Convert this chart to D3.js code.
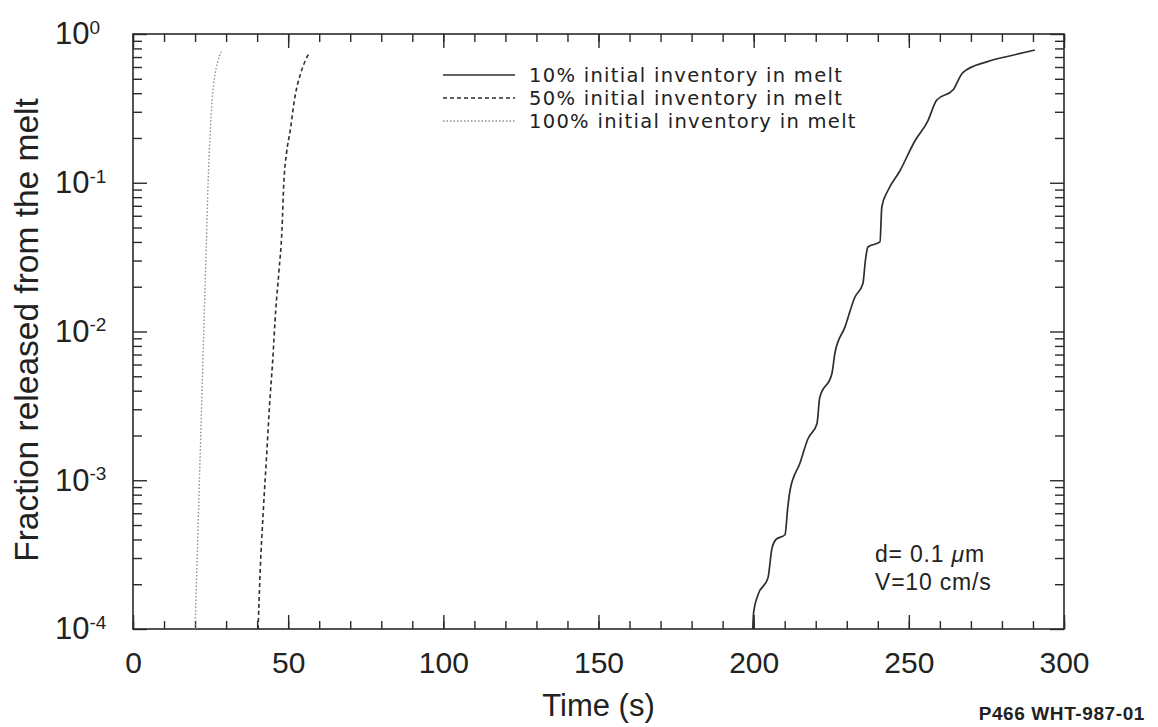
<!DOCTYPE html>
<html>
<head>
<meta charset="utf-8">
<script src="https://cdn.jsdelivr.net/npm/d3@7"></script>
<style>
  body { margin: 0; background: #fff; }
  svg { display: block; }
</style>
</head>
<body>
<div id="chart"></div>
<script>
// ---- data ----
const seriesNames = ["10% initial inventory in melt", "50% initial inventory in melt", "100% initial inventory in melt"];

// 10% initial inventory in melt (solid)
const time10 = [199.7, 200.0, 201.4, 204.6, 205.9, 207.2, 210.1, 211.0, 211.7, 214.9, 217.5, 220.4, 221.3, 225.2, 226.2,
  229.4, 232.6, 235.2, 236.0, 236.8, 240.7, 241.3, 243.3, 247.1, 251.9, 256.1, 259.0, 264.2, 267.4, 275.1, 283.5, 290.6];
const frac10 = [1.0e-4, 1.3e-4, 1.7e-4, 2.2e-4, 3.5e-4, 4.0e-4, 4.3e-4, 6.6e-4, 8.5e-4, 1.3e-3, 1.9e-3, 2.4e-3, 3.6e-3, 5.2e-3, 7.2e-3,
  1.07e-2, 1.7e-2, 2.1e-2, 3.0e-2, 3.7e-2, 4.0e-2, 6.9e-2, 8.9e-2, 0.12, 0.19, 0.26, 0.36, 0.42, 0.55, 0.65, 0.72, 0.78];

// 50% initial inventory in melt (dashed)
const time50 = [40.3, 41.0, 42.0, 43.0, 44.0, 45.0, 46.0, 47.0, 48.0, 48.6, 49.5, 50.6, 52.2, 54.1, 55.5, 56.7];
const frac50 = [1.0e-4, 2.5e-4, 6.3e-4, 1.4e-3, 3.2e-3, 6.3e-3, 1.4e-2, 2.5e-2, 4.8e-2, 0.10, 0.16, 0.22, 0.38, 0.55, 0.66, 0.74];

// 100% initial inventory in melt (dotted)
const time100 = [20.0, 20.6, 21.2, 21.8, 22.4, 23.0, 23.6, 24.2, 24.8, 25.5, 26.4, 27.3, 28.4];
const frac100 = [1.0e-4, 2.7e-4, 7.2e-4, 1.9e-3, 5.2e-3, 1.4e-2, 3.7e-2, 0.10, 0.20, 0.36, 0.53, 0.65, 0.76];

const xMajorTicks = [0, 50, 100, 150, 200, 250, 300];
const xMinorTicks = d3.range(0, 301, 10);
const yMajorTicks = [1e-4, 1e-3, 1e-2, 1e-1, 1];
const yExponents = ["-4", "-3", "-2", "-1", "0"];

const width = 1158, height = 727;
const plot = { left: 133, right: 1064, top: 34, bottom: 629 };

const svg = d3.select("#chart").append("svg")
  .attr("width", width)
  .attr("height", height)
  .style("font-family", "'Liberation Sans', Arial, Helvetica, sans-serif");

svg.append("rect").attr("width", width).attr("height", height).attr("fill", "#fff");

const x = d3.scaleLinear().domain([0, 300]).range([plot.left, plot.right]);
const y = d3.scaleLog().domain([1e-4, 1]).range([plot.bottom, plot.top]);

// minor y ticks 2..9 in each decade
const yMinorTicks = [];
yMajorTicks.slice(0, -1).forEach(d => {
  for (let k = 2; k <= 9; k++) yMinorTicks.push(d * k);
});

const axisColor = "#2a2a2a";

function styleAxis(g) {
  g.select(".domain").remove();
  g.selectAll(".tick line").attr("stroke", axisColor).attr("stroke-width", 1.4);
}

// bottom
svg.append("g").attr("transform", `translate(0,${plot.bottom})`)
  .call(d3.axisBottom(x).tickValues(xMinorTicks).tickSize(-8).tickFormat(""))
  .call(styleAxis);
svg.append("g").attr("transform", `translate(0,${plot.bottom})`)
  .call(d3.axisBottom(x).tickValues(xMajorTicks).tickSize(-14).tickPadding(23).tickFormat(d3.format("d")))
  .call(styleAxis)
  .call(g => g.selectAll("text").attr("fill", "#222").style("font-size", "30px"));

// top
svg.append("g").attr("transform", `translate(0,${plot.top})`)
  .call(d3.axisTop(x).tickValues(xMinorTicks).tickSize(-8).tickFormat(""))
  .call(styleAxis);
svg.append("g").attr("transform", `translate(0,${plot.top})`)
  .call(d3.axisTop(x).tickValues(xMajorTicks).tickSize(-14).tickFormat(""))
  .call(styleAxis);

// left
svg.append("g").attr("transform", `translate(${plot.left},0)`)
  .call(d3.axisLeft(y).tickValues(yMinorTicks).tickSize(-9).tickFormat(""))
  .call(styleAxis);
const yLeft = svg.append("g").attr("transform", `translate(${plot.left},0)`)
  .call(d3.axisLeft(y).tickValues(yMajorTicks).tickSize(-14).tickFormat(() => "10"))
  .call(styleAxis);
yLeft.selectAll("text")
  .attr("x", 55 - plot.left)
  .attr("text-anchor", "start")
  .attr("fill", "#222")
  .style("font-size", "31px")
  .each(function(d, i) {
    d3.select(this).append("tspan")
      .attr("dy", "-0.55em")
      .style("font-size", "19px")
      .text(yExponents[i]);
  });

// right
svg.append("g").attr("transform", `translate(${plot.right},0)`)
  .call(d3.axisRight(y).tickValues(yMinorTicks).tickSize(-9).tickFormat(""))
  .call(styleAxis);
svg.append("g").attr("transform", `translate(${plot.right},0)`)
  .call(d3.axisRight(y).tickValues(yMajorTicks).tickSize(-14).tickFormat(""))
  .call(styleAxis);

// frame
svg.append("rect")
  .attr("x", plot.left).attr("y", plot.top)
  .attr("width", plot.right - plot.left).attr("height", plot.bottom - plot.top)
  .attr("fill", "none").attr("stroke", axisColor).attr("stroke-width", 1.6);

// curves
const line = d3.line().x(d => x(d[0])).y(d => y(d[1])).curve(d3.curveMonotoneX);
const styles = [
  { color: "#2e2e2e", width: 1.7, dash: null },
  { color: "#2e2e2e", width: 1.6, dash: "4,3" },
  { color: "#8f8f8f", width: 1.4, dash: "1.5,2" }
];
const series = [d3.zip(time10, frac10), d3.zip(time50, frac50), d3.zip(time100, frac100)];

series.forEach((pts, i) => {
  svg.append("path")
    .datum(pts)
    .attr("d", line)
    .attr("fill", "none")
    .attr("stroke", styles[i].color)
    .attr("stroke-width", styles[i].width)
    .attr("stroke-dasharray", styles[i].dash);
});

// legend
const legend = svg.append("g").style("font-family", "'DejaVu Sans', Verdana, sans-serif");
seriesNames.forEach((name, i) => {
  const ly = 75 + i * 23;
  legend.append("line")
    .attr("x1", 443).attr("x2", 515).attr("y1", ly).attr("y2", ly)
    .attr("stroke", styles[i].color)
    .attr("stroke-width", i === 0 ? 1.6 : 1.3)
    .attr("stroke-dasharray", styles[i].dash);
  legend.append("text")
    .attr("x", 529).attr("y", ly + 7)
    .attr("fill", "#222")
    .style("font-size", "19.5px")
    .style("letter-spacing", "1.3px")
    .text(name);
});

// annotation
const note = svg.append("text").attr("fill", "#222")
  .style("font-size", "23px").style("letter-spacing", "0.8px");
note.append("tspan").attr("x", 875).attr("y", 562).text("d= 0.1 ");
note.append("tspan").style("font-style", "italic").text("\u03bc");
note.append("tspan").text("m");
svg.append("text").attr("x", 875).attr("y", 590).attr("fill", "#222")
  .style("font-size", "23px").style("letter-spacing", "0.8px")
  .text("V=10 cm/s");

// axis titles
svg.append("text")
  .attr("x", (plot.left + plot.right) / 2).attr("y", 716)
  .attr("text-anchor", "middle").attr("fill", "#222")
  .style("font-size", "31px")
  .text("Time (s)");
svg.append("text")
  .attr("transform", "translate(38,330) rotate(-90)")
  .attr("text-anchor", "middle").attr("fill", "#222")
  .style("font-size", "33.5px")
  .text("Fraction released from the melt");

// figure id
svg.append("text")
  .attr("x", 1145).attr("y", 720)
  .attr("text-anchor", "end").attr("fill", "#222")
  .style("font-size", "19px").style("font-weight", "bold")
  .style("letter-spacing", "0.6px")
  .text("P466 WHT-987-01");
</script>
</body>
</html>
